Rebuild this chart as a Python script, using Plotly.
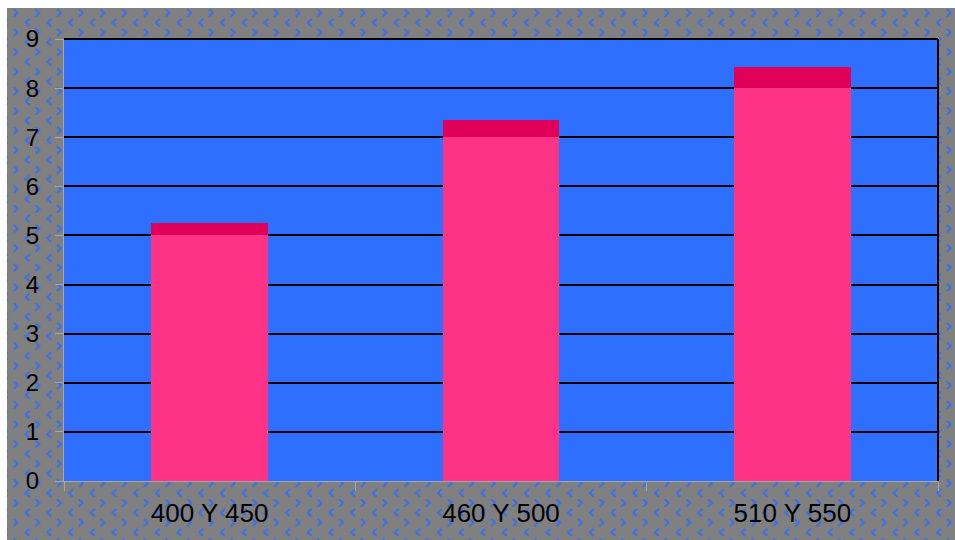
import base64
import plotly.graph_objects as go

categories = ["400 Y 450", "460 Y 500", "510 Y 550"]
base_values = [5, 7, 8]
top_values = [0.26, 0.36, 0.42]
y_ticks = [0, 1, 2, 3, 4, 5, 6, 7, 8, 9]

W, H = 955, 540
ML, MR, MT, MB = 64, 17, 39, 59
PW, PH = W - ML - MR, H - MT - MB

# patterned background (gray with small blue chevrons)
bgw, bgh = 948, 532
chev = 'fill="none" stroke="#3a6fe8" stroke-width="2" stroke-linecap="round" stroke-linejoin="round"'
svg = f'''<svg xmlns="http://www.w3.org/2000/svg" width="{bgw}" height="{bgh}">
<defs><pattern id="p" patternUnits="userSpaceOnUse" width="21.7" height="19.6">
<rect width="21.7" height="19.6" fill="#808080"/>
<polyline points="22,11.4 18.5,14.6 22,17.8" {chev}/>
<polyline points="0.3,11.4 -3.2,14.6 0.3,17.8" {chev}/>
<polyline points="7.2,1.8 10.7,5 7.2,8.2" {chev}/>
<polyline points="7.2,21.4 10.7,24.6 7.2,27.8" {chev}/>
</pattern></defs>
<rect width="{bgw}" height="{bgh}" fill="url(#p)"/></svg>'''
src = "data:image/svg+xml;base64," + base64.b64encode(svg.encode()).decode()

fig = go.Figure()
fig.add_trace(go.Bar(x=categories, y=base_values, marker=dict(color="#FF3385", line=dict(width=0)), width=0.4))
fig.add_trace(go.Bar(x=categories, y=top_values, marker=dict(color="#E0005A", line=dict(width=0)), width=0.4))

fig.add_layout_image(dict(
    source=src, xref="paper", yref="paper",
    x=(7 - ML) / PW, y=(H - MB - 8) / PH,
    sizex=bgw / PW, sizey=bgh / PH,
    xanchor="left", yanchor="top", sizing="stretch", layer="below"))

fig.add_shape(type="rect", xref="paper", yref="paper", x0=0, x1=1, y0=0, y1=1,
              fillcolor="#2F6FFF", line=dict(width=0), layer="below")
fig.add_shape(type="line", xref="paper", yref="paper", x0=1, x1=1, y0=0, y1=1,
              line=dict(color="black", width=2))
fig.add_shape(type="line", xref="paper", yref="paper", x0=0, x1=1, y0=1, y1=1,
              line=dict(color="black", width=2))

fig.update_layout(
    width=W, height=H,
    margin=dict(l=ML, r=MR, t=MT, b=MB, pad=0),
    barmode="stack",
    showlegend=False,
    paper_bgcolor="white",
    plot_bgcolor="#2F6FFF",
    font=dict(family="Liberation Sans, Arial, sans-serif", size=24, color="black"),
    xaxis=dict(showgrid=False, showline=True, linecolor="#a8a8a8", linewidth=1,
               ticks="outside", tickson="boundaries", ticklen=9, tickcolor="#a8a8a8",
               ticklabelstandoff=9, tickfont=dict(size=26), automargin=False),
    yaxis=dict(range=[0, 9], tickvals=y_ticks, showgrid=True, gridcolor="black", gridwidth=2,
               zeroline=False, showline=True, linecolor="#a8a8a8", linewidth=1,
               ticks="outside", ticklen=8, tickcolor="#a8a8a8",
               ticklabelstandoff=11, tickfont=dict(size=24), automargin=False),
)

fig.write_html("out.html")
